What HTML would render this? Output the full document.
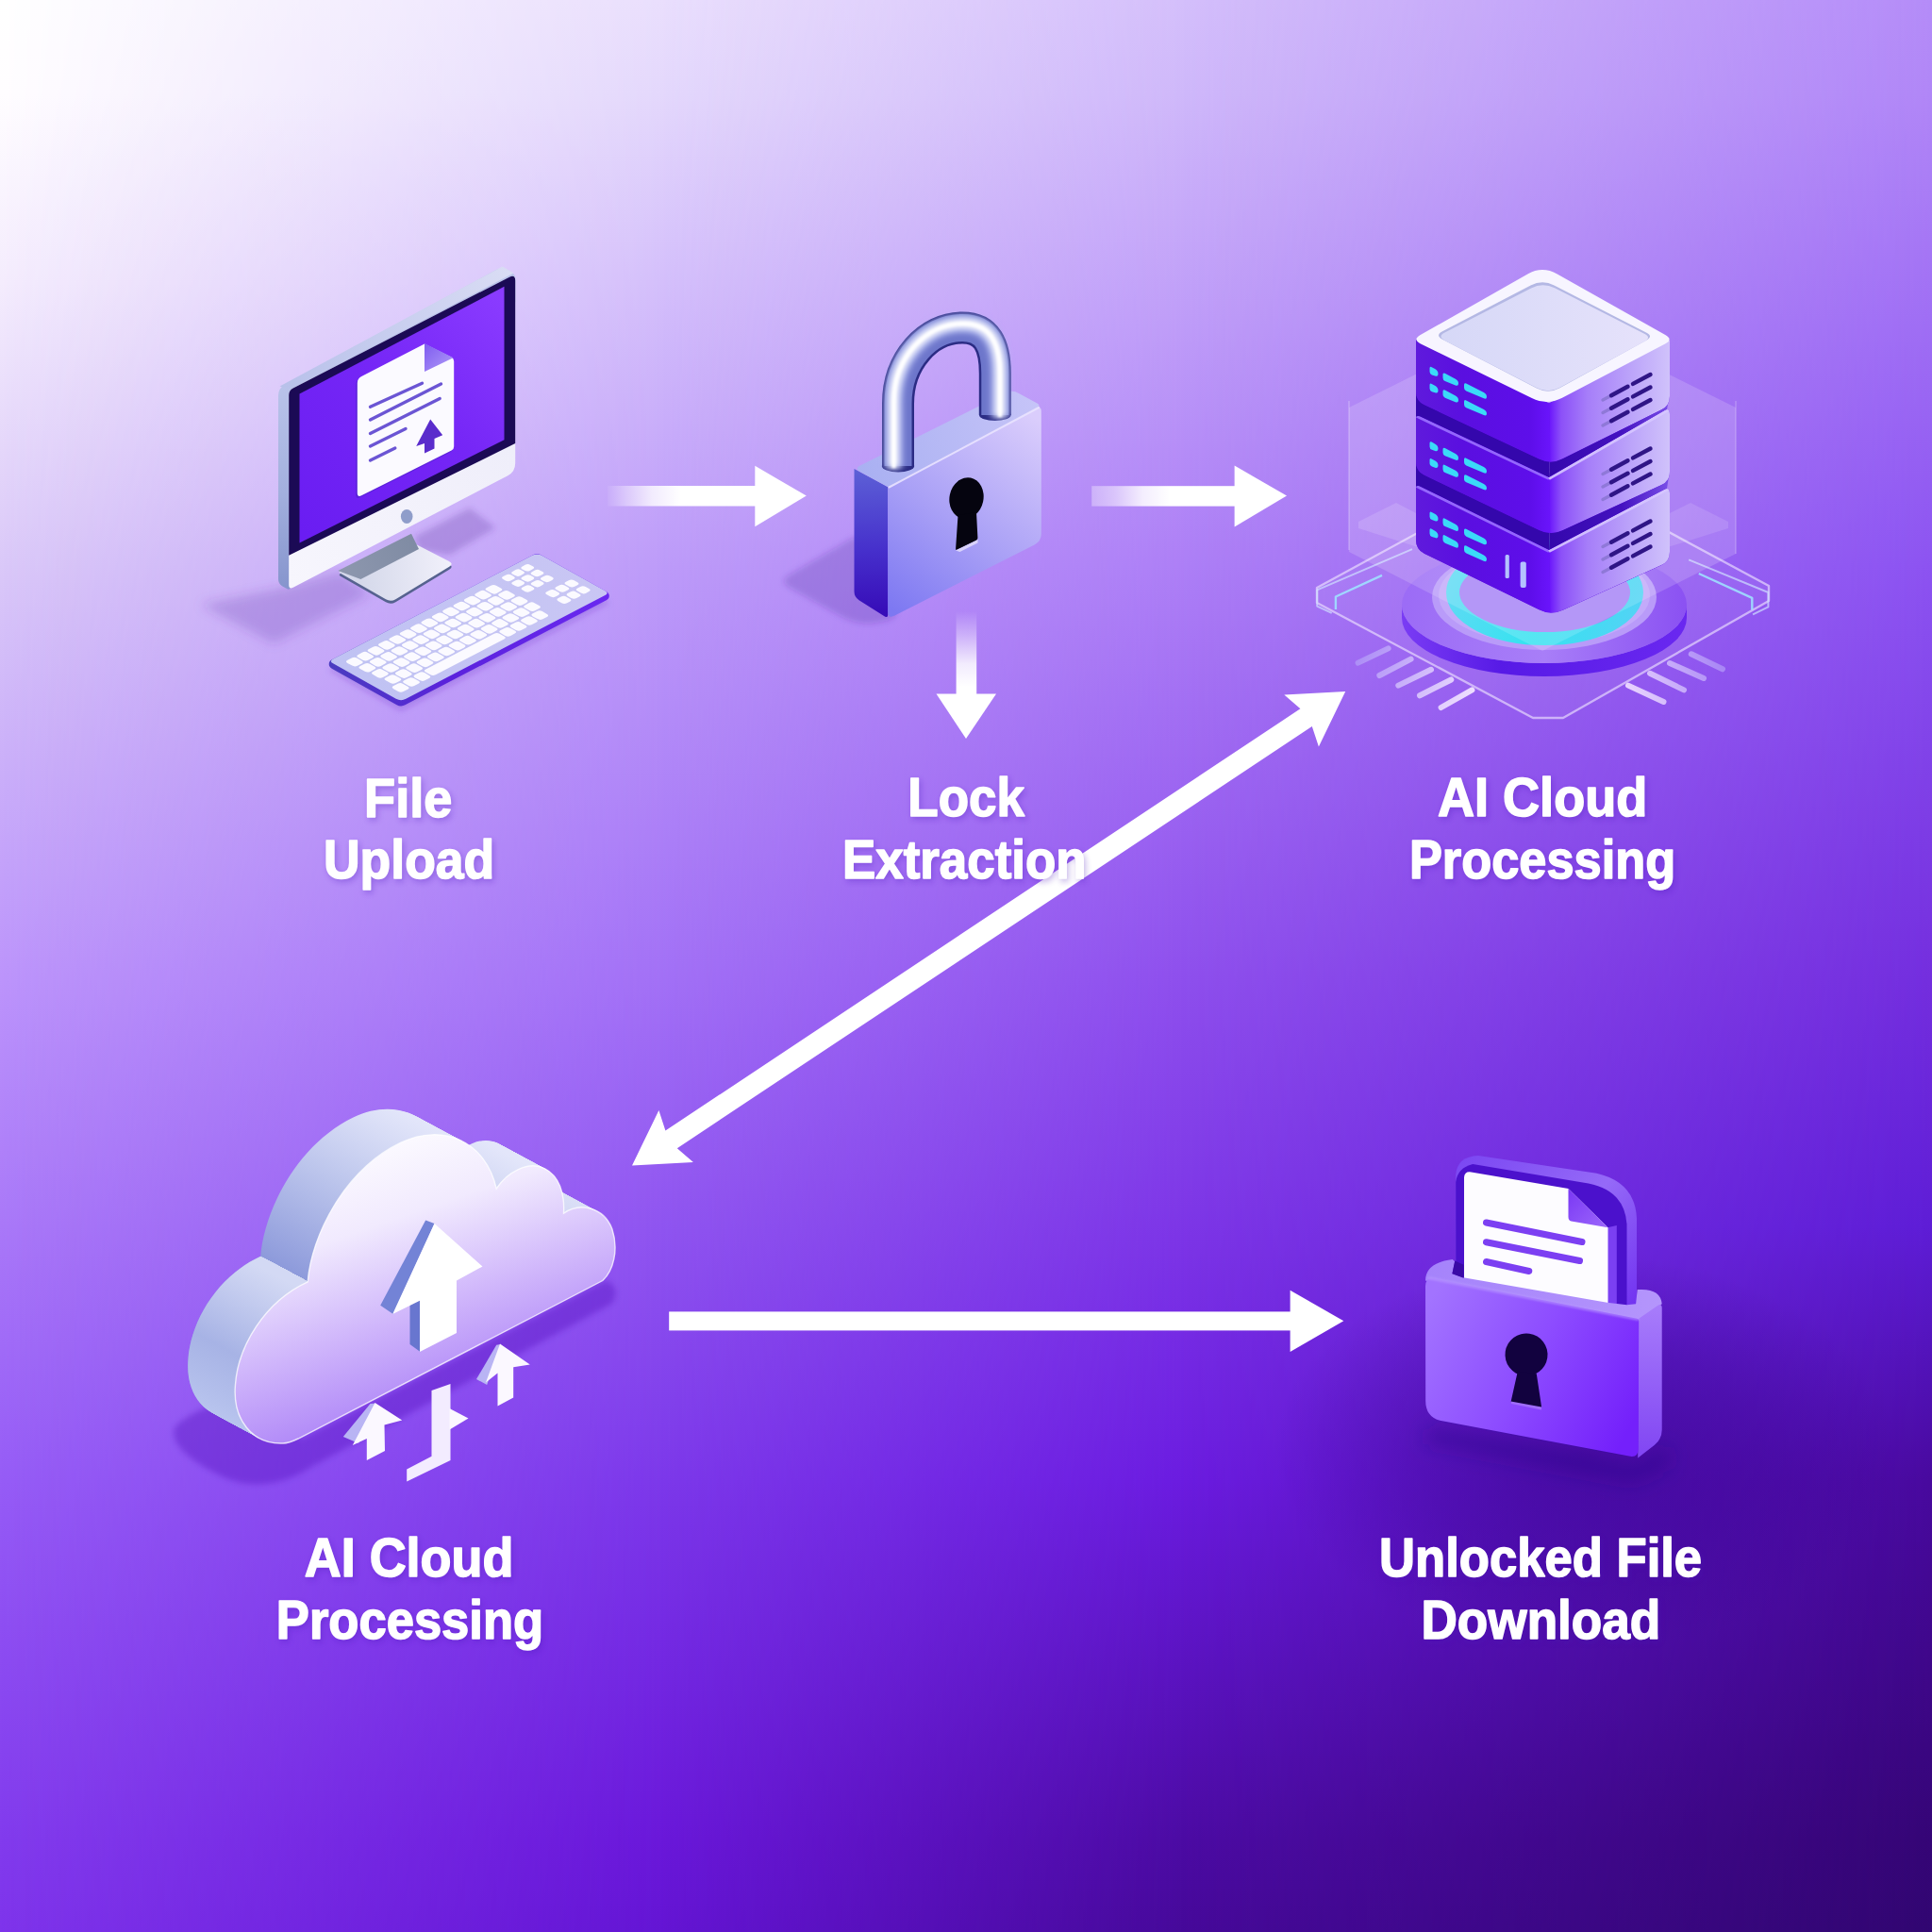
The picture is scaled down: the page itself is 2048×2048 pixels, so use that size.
<!DOCTYPE html>
<html lang="en"><head><meta charset="utf-8"><title>File unlock flow</title>
<style>
html,body{margin:0;padding:0;background:#7a33e6;}
svg{display:block}
text{font-family:"Liberation Sans",sans-serif;font-weight:700;fill:#fff}
</style></head><body>
<svg xmlns="http://www.w3.org/2000/svg" width="2048" height="2048" viewBox="0 0 2048 2048">
<defs><linearGradient id="bgc0" gradientUnits="userSpaceOnUse" x1="0" y1="0" x2="0" y2="2048"><stop offset="0.0000" stop-color="#ffffff"/><stop offset="0.0488" stop-color="#fffdff"/><stop offset="0.1465" stop-color="#f4ecfd"/><stop offset="0.2930" stop-color="#dac8f8"/><stop offset="0.4004" stop-color="#caaef9"/><stop offset="0.5078" stop-color="#bc94fb"/><stop offset="0.6348" stop-color="#a978f8"/><stop offset="0.7666" stop-color="#965cf6"/><stop offset="0.8594" stop-color="#8c4bf1"/><stop offset="0.9521" stop-color="#823bed"/><stop offset="1.0000" stop-color="#7e34eb"/></linearGradient>
<linearGradient id="bgc1" gradientUnits="userSpaceOnUse" x1="0" y1="0" x2="0" y2="2048"><stop offset="0.0000" stop-color="#eadffd"/><stop offset="0.0488" stop-color="#e4d8fc"/><stop offset="0.1465" stop-color="#d4bffb"/><stop offset="0.2930" stop-color="#bd9bf9"/><stop offset="0.5078" stop-color="#a270f6"/><stop offset="0.7666" stop-color="#7c38ea"/><stop offset="0.9521" stop-color="#6a18da"/><stop offset="1.0000" stop-color="#6415d4"/></linearGradient>
<linearGradient id="bgr1" gradientUnits="userSpaceOnUse" x1="0" y1="0" x2="700" y2="0"><stop offset="0" stop-color="#fff" stop-opacity="0"/><stop offset="1" stop-color="#fff" stop-opacity="1"/></linearGradient>
<mask id="bgm1" maskUnits="userSpaceOnUse" x="0" y="0" width="2048" height="2048"><rect width="2048" height="2048" fill="url(#bgr1)"/></mask>
<linearGradient id="bgc2" gradientUnits="userSpaceOnUse" x1="0" y1="0" x2="0" y2="2048"><stop offset="0.0000" stop-color="#d4bffb"/><stop offset="0.0488" stop-color="#cfb8fa"/><stop offset="0.2930" stop-color="#ad7ff6"/><stop offset="0.5078" stop-color="#8e4fed"/><stop offset="0.7666" stop-color="#6b1ce0"/><stop offset="0.9521" stop-color="#4c0ba4"/><stop offset="1.0000" stop-color="#46099a"/></linearGradient>
<linearGradient id="bgr2" gradientUnits="userSpaceOnUse" x1="700" y1="0" x2="1250" y2="0"><stop offset="0" stop-color="#fff" stop-opacity="0"/><stop offset="1" stop-color="#fff" stop-opacity="1"/></linearGradient>
<mask id="bgm2" maskUnits="userSpaceOnUse" x="0" y="0" width="2048" height="2048"><rect width="2048" height="2048" fill="url(#bgr2)"/></mask>
<linearGradient id="bgc3" gradientUnits="userSpaceOnUse" x1="0" y1="0" x2="0" y2="2048"><stop offset="0.0000" stop-color="#b48cf8"/><stop offset="0.0488" stop-color="#b086f7"/><stop offset="0.2930" stop-color="#8c53f1"/><stop offset="0.5078" stop-color="#732ede"/><stop offset="0.6348" stop-color="#5e1dd6"/><stop offset="0.7666" stop-color="#48099e"/><stop offset="0.9521" stop-color="#350576"/><stop offset="1.0000" stop-color="#310671"/></linearGradient>
<linearGradient id="bgr3" gradientUnits="userSpaceOnUse" x1="1250" y1="0" x2="2048" y2="0"><stop offset="0" stop-color="#fff" stop-opacity="0"/><stop offset="1" stop-color="#fff" stop-opacity="1"/></linearGradient>
<mask id="bgm3" maskUnits="userSpaceOnUse" x="0" y="0" width="2048" height="2048"><rect width="2048" height="2048" fill="url(#bgr3)"/></mask>

<filter id="blur3" x="-20%" y="-20%" width="140%" height="140%"><feGaussianBlur stdDeviation="3"/></filter>
<filter id="blur6" x="-20%" y="-20%" width="140%" height="140%"><feGaussianBlur stdDeviation="6"/></filter>
<filter id="blur10" x="-30%" y="-30%" width="160%" height="160%"><feGaussianBlur stdDeviation="10"/></filter>
<filter id="blur1" x="-20%" y="-20%" width="140%" height="140%"><feGaussianBlur stdDeviation="1"/></filter>
<linearGradient id="mside" gradientUnits="userSpaceOnUse" x1="295" y1="410" x2="306" y2="630">
  <stop offset="0" stop-color="#b9c3ea"/><stop offset="0.5" stop-color="#a3b0de"/><stop offset="1" stop-color="#8493cc"/>
</linearGradient>
<linearGradient id="mtop" gradientUnits="userSpaceOnUse" x1="300" y1="410" x2="540" y2="290">
  <stop offset="0" stop-color="#b8c1ea"/><stop offset="1" stop-color="#d9dcf4"/>
</linearGradient>
<linearGradient id="mscreen" gradientUnits="userSpaceOnUse" x1="317" y1="560" x2="535" y2="320">
  <stop offset="0" stop-color="#6a1df2"/><stop offset="0.55" stop-color="#7526f6"/><stop offset="1" stop-color="#8a3bff"/>
</linearGradient>
<linearGradient id="mchin" gradientUnits="userSpaceOnUse" x1="306" y1="620" x2="546" y2="480">
  <stop offset="0" stop-color="#f7f6fd"/><stop offset="1" stop-color="#efeefa"/>
</linearGradient>
<linearGradient id="mneck" gradientUnits="userSpaceOnUse" x1="360" y1="605" x2="443" y2="575">
  <stop offset="0" stop-color="#8d97ae"/><stop offset="1" stop-color="#7f8ba3"/>
</linearGradient>
<linearGradient id="mbase" gradientUnits="userSpaceOnUse" x1="380" y1="610" x2="480" y2="600">
  <stop offset="0" stop-color="#d4d8ea"/><stop offset="1" stop-color="#f2f1fb"/>
</linearGradient>
<linearGradient id="kbtop" gradientUnits="userSpaceOnUse" x1="350" y1="700" x2="640" y2="620">
  <stop offset="0" stop-color="#bfc2f3"/><stop offset="1" stop-color="#c9c6f4"/>
</linearGradient>
<linearGradient id="kbside" gradientUnits="userSpaceOnUse" x1="350" y1="700" x2="640" y2="640">
  <stop offset="0" stop-color="#4a3cc0"/><stop offset="0.4" stop-color="#5a22dc"/><stop offset="1" stop-color="#6a28f0"/>
</linearGradient>
<linearGradient id="fold1" gradientUnits="userSpaceOnUse" x1="450" y1="365" x2="480" y2="395">
  <stop offset="0" stop-color="#7f5cf0"/><stop offset="1" stop-color="#b19cf8"/>
</linearGradient>


<linearGradient id="lkfront" gradientUnits="userSpaceOnUse" x1="950" y1="650" x2="1100" y2="445">
  <stop offset="0" stop-color="#7d78f2"/><stop offset="0.45" stop-color="#a9a0f6"/><stop offset="1" stop-color="#dacdfc"/>
</linearGradient>
<linearGradient id="lkleft" gradientUnits="userSpaceOnUse" x1="920" y1="500" x2="925" y2="650">
  <stop offset="0" stop-color="#5c5fd6"/><stop offset="0.55" stop-color="#4630cc"/><stop offset="1" stop-color="#370cb8"/>
</linearGradient>
<linearGradient id="lktop" gradientUnits="userSpaceOnUse" x1="910" y1="500" x2="1100" y2="425">
  <stop offset="0" stop-color="#a9b0f2"/><stop offset="1" stop-color="#c6c4f8"/>
</linearGradient>
<linearGradient id="shk" gradientUnits="userSpaceOnUse" x1="935" y1="0" x2="1072" y2="0">
  <stop offset="0" stop-color="#3f409c"/><stop offset="0.5" stop-color="#5d62bd"/><stop offset="1" stop-color="#4a4cab"/>
</linearGradient>


<linearGradient id="svL" x1="0" y1="0" x2="1" y2="0">
  <stop offset="0" stop-color="#5f1adc"/><stop offset="0.35" stop-color="#5a0fe0"/><stop offset="0.85" stop-color="#5e0eea"/><stop offset="1" stop-color="#6a14fc"/>
</linearGradient>
<linearGradient id="svR" x1="0" y1="0" x2="1" y2="0">
  <stop offset="0" stop-color="#6a14fc"/><stop offset="0.1" stop-color="#8c50f8"/><stop offset="0.32" stop-color="#a67ef9"/><stop offset="0.7" stop-color="#bda6fa"/><stop offset="1" stop-color="#d0c2fb"/>
</linearGradient>
<linearGradient id="svTopIn" gradientUnits="userSpaceOnUse" x1="1530" y1="360" x2="1750" y2="350">
  <stop offset="0" stop-color="#d6d8f7"/><stop offset="1" stop-color="#e6e2fb"/>
</linearGradient>
<linearGradient id="discTop" gradientUnits="userSpaceOnUse" x1="1490" y1="640" x2="1790" y2="660">
  <stop offset="0" stop-color="#9c6cf6"/><stop offset="0.5" stop-color="#a87ef8"/><stop offset="1" stop-color="#8a50f2"/>
</linearGradient>
<linearGradient id="discSide" gradientUnits="userSpaceOnUse" x1="1486" y1="0" x2="1788" y2="0">
  <stop offset="0" stop-color="#7a3cf4"/><stop offset="0.35" stop-color="#571ae6"/><stop offset="1" stop-color="#6a28f0"/>
</linearGradient>
<linearGradient id="ring" gradientUnits="userSpaceOnUse" x1="1535" y1="600" x2="1740" y2="690">
  <stop offset="0" stop-color="#63d9f4"/><stop offset="0.5" stop-color="#35e3f0"/><stop offset="1" stop-color="#58d0f6"/>
</linearGradient>
<linearGradient id="tickL" gradientUnits="userSpaceOnUse" x1="1440" y1="690" x2="1560" y2="750">
  <stop offset="0" stop-color="#ab8cf6"/><stop offset="1" stop-color="#f1e2ff"/>
</linearGradient>
<linearGradient id="tickR" gradientUnits="userSpaceOnUse" x1="1826" y1="695" x2="1726" y2="745">
  <stop offset="0" stop-color="#a582f5"/><stop offset="1" stop-color="#ecd8ff"/>
</linearGradient>


<linearGradient id="gapR" gradientUnits="userSpaceOnUse" x1="1642" y1="0" x2="1770" y2="0">
  <stop offset="0" stop-color="#3407ac"/><stop offset="0.6" stop-color="#4412c0"/><stop offset="1" stop-color="#7a50e8"/>
</linearGradient>


<linearGradient id="clFront" gradientUnits="userSpaceOnUse" x1="365" y1="1215" x2="470" y2="1520">
  <stop offset="0" stop-color="#fdfcff"/><stop offset="0.28" stop-color="#f1eafe"/>
  <stop offset="0.6" stop-color="#cfb5fb"/><stop offset="1" stop-color="#a375f6"/>
</linearGradient>
<linearGradient id="clSideA" gradientUnits="userSpaceOnUse" x1="400" y1="1175" x2="330" y2="1360">
  <stop offset="0" stop-color="#e3e6fa"/><stop offset="0.45" stop-color="#bcc5ec"/><stop offset="1" stop-color="#8d9adb"/>
</linearGradient>
<linearGradient id="clSideB" gradientUnits="userSpaceOnUse" x1="270" y1="1350" x2="215" y2="1520">
  <stop offset="0" stop-color="#d3d9f4"/><stop offset="0.5" stop-color="#a7b3e5"/><stop offset="1" stop-color="#bcc8f0"/>
</linearGradient>

<path id="clp" d="M 300.0,1530.0 C 267.5,1531.2 246.2,1505.0 249.5,1467.5 C 252.5,1427.5 280.0,1380.0 326.2,1358.8 C 330.0,1310.0 365.0,1240.0 425.0,1211.2 C 470.0,1190.0 515.0,1210.0 526.2,1260.0 C 537.5,1242.5 560.0,1230.0 577.5,1238.8 C 592.5,1246.2 598.8,1265.0 597.5,1286.2 C 615.0,1273.8 640.0,1280.0 648.8,1302.5 C 656.2,1325.0 650.0,1347.5 638.8,1357.5 L 316.2,1525.0 C 310.0,1528.0 305.0,1530.0 300.0,1530.0 Z"/>
<clipPath id="clLeft"><polygon points="332.5,1362.0 276.2,1331.8 155.0,1331.8 155.0,1600.0 332.5,1600.0"/></clipPath>

<linearGradient id="ulFront" gradientUnits="userSpaceOnUse" x1="1515" y1="1380" x2="1735" y2="1500">
  <stop offset="0" stop-color="#a273ff"/><stop offset="0.5" stop-color="#8d4cff"/><stop offset="1" stop-color="#7420fb"/>
</linearGradient>
<linearGradient id="ulSide" gradientUnits="userSpaceOnUse" x1="1748" y1="1385" x2="1748" y2="1540">
  <stop offset="0" stop-color="#a77cfb"/><stop offset="1" stop-color="#8247f3"/>
</linearGradient>
<linearGradient id="ulTop" gradientUnits="userSpaceOnUse" x1="1515" y1="1340" x2="1760" y2="1385">
  <stop offset="0" stop-color="#a583fb"/><stop offset="1" stop-color="#b495fc"/>
</linearGradient>
<linearGradient id="ulBackO" gradientUnits="userSpaceOnUse" x1="1545" y1="1225" x2="1735" y2="1390">
  <stop offset="0" stop-color="#7a46f2"/><stop offset="0.55" stop-color="#956af8"/><stop offset="1" stop-color="#7030f0"/>
</linearGradient>
<linearGradient id="ulFold" gradientUnits="userSpaceOnUse" x1="1662" y1="1262" x2="1700" y2="1300">
  <stop offset="0" stop-color="#7a38f4"/><stop offset="1" stop-color="#9a64fb"/>
</linearGradient>
<radialGradient id="ulGlow" cx="0.5" cy="0.5" r="0.5">
  <stop offset="0" stop-color="#36048c" stop-opacity="0.55"/><stop offset="0.55" stop-color="#36048c" stop-opacity="0.3"/><stop offset="1" stop-color="#36048c" stop-opacity="0"/>
</radialGradient>


<linearGradient id="fa1" gradientUnits="userSpaceOnUse" x1="644" y1="0" x2="722" y2="0">
  <stop offset="0" stop-color="#fff" stop-opacity="0.05"/><stop offset="0.25" stop-color="#fff" stop-opacity="0.38"/>
  <stop offset="0.6" stop-color="#fff" stop-opacity="0.78"/><stop offset="1" stop-color="#fff" stop-opacity="1"/>
</linearGradient>
<linearGradient id="fa2" gradientUnits="userSpaceOnUse" x1="1157" y1="0" x2="1240" y2="0">
  <stop offset="0" stop-color="#fff" stop-opacity="0.32"/><stop offset="0.3" stop-color="#fff" stop-opacity="0.5"/>
  <stop offset="0.65" stop-color="#fff" stop-opacity="0.85"/><stop offset="1" stop-color="#fff" stop-opacity="1"/>
</linearGradient>
<linearGradient id="fa3" gradientUnits="userSpaceOnUse" x1="0" y1="648" x2="0" y2="728">
  <stop offset="0" stop-color="#fff" stop-opacity="0.0"/><stop offset="0.3" stop-color="#fff" stop-opacity="0.35"/>
  <stop offset="0.7" stop-color="#fff" stop-opacity="0.85"/><stop offset="1" stop-color="#fff" stop-opacity="1"/>
</linearGradient>
</defs>
<rect width="2048" height="2048" fill="url(#bgc0)"/>
<rect width="2048" height="2048" fill="url(#bgc1)" mask="url(#bgm1)"/>
<rect width="2048" height="2048" fill="url(#bgc2)" mask="url(#bgm2)"/>
<rect width="2048" height="2048" fill="url(#bgc3)" mask="url(#bgm3)"/>
<g filter="url(#blur3)">
<polygon points="439.1,568.9 498.1,538.6 525.2,559.6 476.3,588.3 444.5,582.9" fill="rgba(92,52,160,0.26)" />
</g>
<g filter="url(#blur6)">
<polygon points="213.0,641.0 305.0,622.0 362.0,606.0 392.0,630.0 290.0,682.0" fill="rgba(92,52,170,0.24)" />
</g>
<path d="M360.9,610.7 Q358.3,609.2 361.0,607.9 L429.8,574.2 L476.0,597.9 Q481.3,600.6 476.2,603.8 L419.4,638.2 Q414.2,641.3 409.0,638.3 Z" fill="#56628f"/>
<path d="M360.9,607.7 Q358.3,606.2 361.0,604.9 L429.8,571.2 L476.0,594.9 Q481.3,597.6 476.2,600.8 L419.4,635.2 Q414.2,638.3 409.0,635.3 Z" fill="url(#mbase)"/>
<polygon points="358.3,605.1 436.0,565.8 444.0,582.1 382.4,614.1" fill="url(#mneck)" />
<path d="M295.0,419.5 Q295.0,411.5 302.0,407.7 L525.5,286.3 Q532.5,282.5 539.3,286.7 L542.2,288.4 Q546.5,291.0 546.5,296.0 L546.5,320.0 L307.5,623.7 Q306.2,625.2 304.5,624.3 L299.4,621.4 Q295.0,619.0 295.0,614.0 Z" fill="url(#mside)"/>
<polygon points="296.5,409.5 532.5,282.5 544.5,289.5 307.5,412.5" fill="url(#mtop)" />
<path d="M306.2,418.8 Q306.2,413.8 310.7,411.5 L540.0,293.7 Q546.2,290.5 546.2,297.5 L546.2,491.0 Q546.2,500.0 538.3,504.2 L310.7,622.7 Q306.2,625.0 306.2,620.0 Z" fill="url(#mchin)"/>
<path d="M306.2,418.8 Q306.2,413.8 310.7,411.5 L540.0,293.7 Q546.2,290.5 546.2,297.5 L546.2,470.0 L306.2,588.8 Z" fill="#1b0a55"/>
<polygon points="317.5,417.5 534.5,303.8 534.5,466.2 317.5,575.5" fill="url(#mscreen)" />
<ellipse cx="431.2" cy="547.5" rx="6.3" ry="7.4" fill="#8f9dca"/>
<path d="M377.2,408.2 Q377.2,403.2 381.7,401.0 L448.5,366.5 L477.1,380.7 Q479.8,382.0 479.8,385.0 L479.8,475.2 Q479.8,478.2 477.1,479.6 L381.7,527.3 Q377.2,529.5 377.2,524.5 Z" fill="#4a22c4" opacity="0.55"/>
<path d="M378.8,406.2 Q378.8,401.2 383.2,399.0 L450.0,364.5 L478.6,378.7 Q481.2,380.0 481.2,383.0 L481.2,473.2 Q481.2,476.2 478.6,477.6 L383.2,525.3 Q378.8,527.5 378.8,522.5 Z" fill="#fbfaff"/>
<polygon points="450.0,364.0 480.5,379.2 450.0,394.0" fill="url(#fold1)" />
<line x1="392.5" y1="431.2" x2="447.5" y2="406.2" stroke="#6b55d4" stroke-width="3.4" stroke-linecap="round"/>
<line x1="392.5" y1="445.0" x2="467.5" y2="407.0" stroke="#6b55d4" stroke-width="3.4" stroke-linecap="round"/>
<line x1="392.5" y1="459.5" x2="466.2" y2="422.5" stroke="#6b55d4" stroke-width="3.4" stroke-linecap="round"/>
<line x1="392.5" y1="473.0" x2="430.0" y2="454.5" stroke="#6b55d4" stroke-width="3.4" stroke-linecap="round"/>
<line x1="392.5" y1="488.0" x2="418.8" y2="475.0" stroke="#6b55d4" stroke-width="3.4" stroke-linecap="round"/>
<polygon points="456.2,444.5 469.2,461.2 460.5,465.0 460.5,475.5 450.0,480.5 450.0,470.0 441.2,473.0" fill="#5a2ccc" />
<g filter="url(#blur3)">
<polygon points="348.7,709.9 569.5,595.0 645.8,638.7 425.0,753.6" fill="rgba(90,40,190,0.25)" />
</g>
<path d="M352.2,699.1 Q348.7,700.9 348.7,703.9 L348.7,703.9 Q348.7,706.9 352.2,708.9 L420.6,747.2 Q425.0,749.6 429.4,747.3 L642.3,636.5 Q645.8,634.7 645.8,631.7 L645.8,631.7 Q645.8,628.7 642.3,626.7 L573.0,588.0 Q569.5,586.0 566.0,587.8 Z" fill="url(#kbside)"/>
<path d="M353.1,703.3 Q348.7,700.9 353.1,698.6 L564.2,588.8 Q569.5,586.0 574.7,588.9 L641.4,626.3 Q645.8,628.7 641.4,631.0 L430.3,740.8 Q425.0,743.6 419.8,740.7 Z" fill="url(#kbtop)"/>
<path d="M368.3,702.9 Q365.5,701.3 368.4,699.8 L372.8,697.5 Q375.6,696.0 378.4,697.6 L383.4,700.4 Q386.2,701.9 383.3,703.4 L378.9,705.7 Q376.0,707.2 373.3,705.6 Z" fill="#fbfaff"/>
<path d="M379.7,697.0 Q376.9,695.4 379.7,693.9 L384.2,691.6 Q387.0,690.1 389.8,691.7 L394.7,694.5 Q397.5,696.0 394.7,697.5 L390.2,699.8 Q387.4,701.3 384.6,699.7 Z" fill="#fbfaff"/>
<path d="M391.0,691.0 Q388.2,689.5 391.1,688.0 L395.5,685.7 Q398.3,684.2 401.1,685.8 L406.1,688.5 Q408.9,690.1 406.0,691.6 L401.6,693.9 Q398.8,695.4 396.0,693.8 Z" fill="#fbfaff"/>
<path d="M402.4,685.1 Q399.6,683.6 402.4,682.1 L406.9,679.8 Q409.7,678.3 412.5,679.9 L417.4,682.6 Q420.2,684.2 417.4,685.7 L412.9,688.0 Q410.1,689.5 407.3,687.9 Z" fill="#fbfaff"/>
<path d="M413.7,679.2 Q410.9,677.7 413.8,676.2 L418.2,673.9 Q421.1,672.4 423.8,674.0 L428.8,676.7 Q431.6,678.3 428.7,679.8 L424.3,682.1 Q421.5,683.6 418.7,682.0 Z" fill="#fbfaff"/>
<path d="M425.1,673.3 Q422.3,671.8 425.1,670.3 L429.6,668.0 Q432.4,666.5 435.2,668.0 L440.1,670.8 Q442.9,672.4 440.1,673.9 L435.7,676.2 Q432.8,677.6 430.0,676.1 Z" fill="#fbfaff"/>
<path d="M436.4,667.4 Q433.6,665.8 436.5,664.4 L440.9,662.1 Q443.8,660.6 446.6,662.1 L451.5,664.9 Q454.3,666.5 451.5,667.9 L447.0,670.3 Q444.2,671.7 441.4,670.2 Z" fill="#fbfaff"/>
<path d="M447.8,661.5 Q445.0,659.9 447.8,658.5 L452.3,656.1 Q455.1,654.7 457.9,656.2 L462.9,659.0 Q465.7,660.6 462.8,662.0 L458.4,664.3 Q455.5,665.8 452.7,664.3 Z" fill="#fbfaff"/>
<path d="M459.2,655.6 Q456.4,654.0 459.2,652.5 L463.6,650.2 Q466.5,648.8 469.3,650.3 L474.2,653.1 Q477.0,654.7 474.2,656.1 L469.7,658.4 Q466.9,659.9 464.1,658.4 Z" fill="#fbfaff"/>
<path d="M470.5,649.7 Q467.7,648.1 470.6,646.6 L475.0,644.3 Q477.8,642.8 480.6,644.4 L485.6,647.2 Q488.4,648.7 485.5,650.2 L481.1,652.5 Q478.2,654.0 475.5,652.4 Z" fill="#fbfaff"/>
<path d="M481.9,643.8 Q479.1,642.2 481.9,640.7 L486.4,638.4 Q489.2,636.9 492.0,638.5 L496.9,641.3 Q499.7,642.8 496.9,644.3 L492.4,646.6 Q489.6,648.1 486.8,646.5 Z" fill="#fbfaff"/>
<path d="M493.2,637.9 Q490.4,636.3 493.3,634.8 L497.7,632.5 Q500.5,631.0 503.3,632.6 L508.3,635.4 Q511.1,636.9 508.2,638.4 L503.8,640.7 Q501.0,642.2 498.2,640.6 Z" fill="#fbfaff"/>
<path d="M504.6,631.9 Q501.8,630.4 504.6,628.9 L509.1,626.6 Q511.9,625.1 514.7,626.7 L519.6,629.5 Q522.4,631.0 519.6,632.5 L515.1,634.8 Q512.3,636.3 509.5,634.7 Z" fill="#fbfaff"/>
<path d="M515.9,626.0 Q513.1,624.5 516.0,623.0 L520.4,620.7 Q523.3,619.2 526.0,620.8 L531.0,623.5 Q533.8,625.1 530.9,626.6 L526.5,628.9 Q523.7,630.4 520.9,628.8 Z" fill="#fbfaff"/>
<path d="M381.8,709.0 Q379.0,707.4 381.9,706.0 L386.3,703.7 Q389.2,702.2 392.0,703.7 L396.9,706.5 Q399.7,708.1 396.9,709.5 L392.4,711.9 Q389.6,713.3 386.8,711.8 Z" fill="#fbfaff"/>
<path d="M393.2,703.1 Q390.4,701.5 393.2,700.1 L397.7,697.7 Q400.5,696.3 403.3,697.8 L408.3,700.6 Q411.1,702.2 408.2,703.6 L403.8,705.9 Q400.9,707.4 398.1,705.9 Z" fill="#fbfaff"/>
<path d="M404.6,697.2 Q401.8,695.6 404.6,694.1 L409.0,691.8 Q411.9,690.4 414.7,691.9 L419.6,694.7 Q422.4,696.2 419.6,697.7 L415.1,700.0 Q412.3,701.5 409.5,700.0 Z" fill="#fbfaff"/>
<path d="M415.9,691.3 Q413.1,689.7 416.0,688.2 L420.4,685.9 Q423.2,684.4 426.0,686.0 L431.0,688.8 Q433.8,690.3 430.9,691.8 L426.5,694.1 Q423.6,695.6 420.9,694.0 Z" fill="#fbfaff"/>
<path d="M427.3,685.4 Q424.5,683.8 427.3,682.3 L431.8,680.0 Q434.6,678.5 437.4,680.1 L442.3,682.9 Q445.1,684.4 442.3,685.9 L437.8,688.2 Q435.0,689.7 432.2,688.1 Z" fill="#fbfaff"/>
<path d="M438.6,679.5 Q435.8,677.9 438.7,676.4 L443.1,674.1 Q445.9,672.6 448.7,674.2 L453.7,677.0 Q456.5,678.5 453.6,680.0 L449.2,682.3 Q446.4,683.8 443.6,682.2 Z" fill="#fbfaff"/>
<path d="M450.0,673.5 Q447.2,672.0 450.0,670.5 L454.5,668.2 Q457.3,666.7 460.1,668.3 L465.0,671.0 Q467.8,672.6 465.0,674.1 L460.5,676.4 Q457.7,677.9 454.9,676.3 Z" fill="#fbfaff"/>
<path d="M461.3,667.6 Q458.5,666.1 461.4,664.6 L465.8,662.3 Q468.7,660.8 471.4,662.4 L476.4,665.1 Q479.2,666.7 476.3,668.2 L471.9,670.5 Q469.1,672.0 466.3,670.4 Z" fill="#fbfaff"/>
<path d="M472.7,661.7 Q469.9,660.2 472.7,658.7 L477.2,656.4 Q480.0,654.9 482.8,656.5 L487.7,659.2 Q490.5,660.8 487.7,662.3 L483.3,664.6 Q480.4,666.1 477.6,664.5 Z" fill="#fbfaff"/>
<path d="M484.0,655.8 Q481.2,654.3 484.1,652.8 L488.5,650.5 Q491.4,649.0 494.2,650.6 L499.1,653.3 Q501.9,654.9 499.1,656.4 L494.6,658.7 Q491.8,660.1 489.0,658.6 Z" fill="#fbfaff"/>
<path d="M495.4,649.9 Q492.6,648.3 495.4,646.9 L499.9,644.6 Q502.7,643.1 505.5,644.6 L510.5,647.4 Q513.3,649.0 510.4,650.5 L506.0,652.8 Q503.1,654.2 500.3,652.7 Z" fill="#fbfaff"/>
<path d="M506.8,644.0 Q504.0,642.4 506.8,641.0 L511.2,638.6 Q514.1,637.2 516.9,638.7 L521.8,641.5 Q524.6,643.1 521.8,644.5 L517.3,646.9 Q514.5,648.3 511.7,646.8 Z" fill="#fbfaff"/>
<path d="M518.1,638.1 Q515.3,636.5 518.2,635.1 L522.6,632.7 Q525.4,631.3 528.2,632.8 L533.2,635.6 Q536.0,637.2 533.1,638.6 L528.7,640.9 Q525.8,642.4 523.1,640.9 Z" fill="#fbfaff"/>
<path d="M529.5,632.2 Q526.7,630.6 529.5,629.1 L533.9,626.8 Q536.8,625.4 539.6,626.9 L544.5,629.7 Q547.3,631.2 544.5,632.7 L540.0,635.0 Q537.2,636.5 534.4,635.0 Z" fill="#fbfaff"/>
<path d="M395.4,715.1 Q392.6,713.6 395.4,712.1 L399.9,709.8 Q402.7,708.3 405.5,709.9 L410.4,712.6 Q413.2,714.2 410.4,715.7 L405.9,718.0 Q403.1,719.5 400.3,717.9 Z" fill="#fbfaff"/>
<path d="M406.7,709.2 Q403.9,707.7 406.8,706.2 L411.2,703.9 Q414.1,702.4 416.8,704.0 L421.8,706.7 Q424.6,708.3 421.7,709.8 L417.3,712.1 Q414.5,713.6 411.7,712.0 Z" fill="#fbfaff"/>
<path d="M418.1,703.3 Q415.3,701.8 418.1,700.3 L422.6,698.0 Q425.4,696.5 428.2,698.1 L433.1,700.8 Q435.9,702.4 433.1,703.9 L428.7,706.2 Q425.8,707.7 423.0,706.1 Z" fill="#fbfaff"/>
<path d="M429.4,697.4 Q426.6,695.9 429.5,694.4 L433.9,692.1 Q436.8,690.6 439.6,692.2 L444.5,694.9 Q447.3,696.5 444.5,698.0 L440.0,700.3 Q437.2,701.7 434.4,700.2 Z" fill="#fbfaff"/>
<path d="M440.8,691.5 Q438.0,689.9 440.8,688.5 L445.3,686.2 Q448.1,684.7 450.9,686.2 L455.9,689.0 Q458.7,690.6 455.8,692.0 L451.4,694.4 Q448.5,695.8 445.7,694.3 Z" fill="#fbfaff"/>
<path d="M452.2,685.6 Q449.4,684.0 452.2,682.6 L456.6,680.2 Q459.5,678.8 462.3,680.3 L467.2,683.1 Q470.0,684.7 467.2,686.1 L462.7,688.5 Q459.9,689.9 457.1,688.4 Z" fill="#fbfaff"/>
<path d="M463.5,679.7 Q460.7,678.1 463.6,676.6 L468.0,674.3 Q470.8,672.9 473.6,674.4 L478.6,677.2 Q481.4,678.8 478.5,680.2 L474.1,682.5 Q471.2,684.0 468.5,682.5 Z" fill="#fbfaff"/>
<path d="M474.9,673.8 Q472.1,672.2 474.9,670.7 L479.3,668.4 Q482.2,667.0 485.0,668.5 L489.9,671.3 Q492.7,672.8 489.9,674.3 L485.4,676.6 Q482.6,678.1 479.8,676.5 Z" fill="#fbfaff"/>
<path d="M486.2,667.9 Q483.4,666.3 486.3,664.8 L490.7,662.5 Q493.5,661.0 496.3,662.6 L501.3,665.4 Q504.1,666.9 501.2,668.4 L496.8,670.7 Q494.0,672.2 491.2,670.6 Z" fill="#fbfaff"/>
<path d="M497.6,662.0 Q494.8,660.4 497.6,658.9 L502.1,656.6 Q504.9,655.1 507.7,656.7 L512.6,659.5 Q515.4,661.0 512.6,662.5 L508.1,664.8 Q505.3,666.3 502.5,664.7 Z" fill="#fbfaff"/>
<path d="M508.9,656.1 Q506.1,654.5 509.0,653.0 L513.4,650.7 Q516.3,649.2 519.0,650.8 L524.0,653.6 Q526.8,655.1 523.9,656.6 L519.5,658.9 Q516.7,660.4 513.9,658.8 Z" fill="#fbfaff"/>
<path d="M520.3,650.1 Q517.5,648.6 520.3,647.1 L524.8,644.8 Q527.6,643.3 530.4,644.9 L535.3,647.6 Q538.1,649.2 535.3,650.7 L530.9,653.0 Q528.0,654.5 525.2,652.9 Z" fill="#fbfaff"/>
<path d="M531.6,644.2 Q528.8,642.7 531.7,641.2 L536.1,638.9 Q539.0,637.4 541.8,639.0 L546.7,641.7 Q549.5,643.3 546.7,644.8 L542.2,647.1 Q539.4,648.6 536.6,647.0 Z" fill="#fbfaff"/>
<path d="M543.0,638.3 Q540.2,636.8 543.0,635.3 L547.5,633.0 Q550.3,631.5 553.1,633.1 L558.1,635.8 Q560.9,637.4 558.0,638.9 L553.6,641.2 Q550.7,642.7 547.9,641.1 Z" fill="#fbfaff"/>
<path d="M408.9,721.3 Q406.1,719.7 409.0,718.2 L413.4,715.9 Q416.2,714.5 419.0,716.0 L424.0,718.8 Q426.8,720.4 423.9,721.8 L419.5,724.1 Q416.6,725.6 413.9,724.1 Z" fill="#fbfaff"/>
<path d="M420.3,715.4 Q417.5,713.8 420.3,712.3 L424.7,710.0 Q427.6,708.5 430.4,710.1 L435.3,712.9 Q438.1,714.4 435.3,715.9 L430.8,718.2 Q428.0,719.7 425.2,718.1 Z" fill="#fbfaff"/>
<path d="M431.6,709.5 Q428.8,707.9 431.7,706.4 L436.1,704.1 Q438.9,702.6 441.7,704.2 L446.7,707.0 Q449.5,708.5 446.6,710.0 L442.2,712.3 Q439.4,713.8 436.6,712.2 Z" fill="#fbfaff"/>
<path d="M443.0,703.6 Q440.2,702.0 443.0,700.5 L447.5,698.2 Q450.3,696.7 453.1,698.3 L458.0,701.1 Q460.8,702.6 458.0,704.1 L453.5,706.4 Q450.7,707.9 447.9,706.3 Z" fill="#fbfaff"/>
<path d="M454.3,697.7 Q451.5,696.1 454.4,694.6 L458.8,692.3 Q461.7,690.8 464.4,692.4 L469.4,695.2 Q472.2,696.7 469.3,698.2 L464.9,700.5 Q462.1,702.0 459.3,700.4 Z" fill="#fbfaff"/>
<path d="M465.7,691.7 Q462.9,690.2 465.7,688.7 L470.2,686.4 Q473.0,684.9 475.8,686.5 L480.7,689.2 Q483.5,690.8 480.7,692.3 L476.3,694.6 Q473.4,696.1 470.6,694.5 Z" fill="#fbfaff"/>
<path d="M477.0,685.8 Q474.2,684.3 477.1,682.8 L481.5,680.5 Q484.4,679.0 487.2,680.6 L492.1,683.3 Q494.9,684.9 492.1,686.4 L487.6,688.7 Q484.8,690.2 482.0,688.6 Z" fill="#fbfaff"/>
<path d="M488.4,679.9 Q485.6,678.4 488.4,676.9 L492.9,674.6 Q495.7,673.1 498.5,674.7 L503.5,677.4 Q506.3,679.0 503.4,680.5 L499.0,682.8 Q496.1,684.3 493.3,682.7 Z" fill="#fbfaff"/>
<path d="M499.7,674.0 Q497.0,672.5 499.8,671.0 L504.2,668.7 Q507.1,667.2 509.9,668.7 L514.8,671.5 Q517.6,673.1 514.8,674.6 L510.3,676.9 Q507.5,678.3 504.7,676.8 Z" fill="#fbfaff"/>
<path d="M511.1,668.1 Q508.3,666.5 511.2,665.1 L515.6,662.8 Q518.4,661.3 521.2,662.8 L526.2,665.6 Q529.0,667.2 526.1,668.6 L521.7,671.0 Q518.8,672.4 516.0,670.9 Z" fill="#fbfaff"/>
<path d="M522.5,662.2 Q519.7,660.6 522.5,659.2 L526.9,656.8 Q529.8,655.4 532.6,656.9 L537.5,659.7 Q540.3,661.3 537.5,662.7 L533.0,665.0 Q530.2,666.5 527.4,665.0 Z" fill="#fbfaff"/>
<path d="M533.8,656.3 Q531.0,654.7 533.9,653.2 L538.3,650.9 Q541.1,649.5 543.9,651.0 L548.9,653.8 Q551.7,655.4 548.8,656.8 L544.4,659.1 Q541.6,660.6 538.8,659.1 Z" fill="#fbfaff"/>
<path d="M545.2,650.4 Q542.4,648.8 545.2,647.3 L549.7,645.0 Q552.5,643.5 555.3,645.1 L560.2,647.9 Q563.0,649.4 560.2,650.9 L555.7,653.2 Q552.9,654.7 550.1,653.1 Z" fill="#fbfaff"/>
<path d="M556.5,644.5 Q553.7,642.9 556.6,641.4 L561.0,639.1 Q563.9,637.6 566.6,639.2 L571.6,642.0 Q574.4,643.5 571.5,645.0 L567.1,647.3 Q564.3,648.8 561.5,647.2 Z" fill="#fbfaff"/>
<path d="M417.1,730.2 Q414.3,728.6 417.2,727.1 L421.6,724.8 Q424.5,723.4 427.3,724.9 L432.2,727.7 Q435.0,729.3 432.2,730.7 L427.7,733.0 Q424.9,734.5 422.1,733.0 Z" fill="#fbfaff"/>
<path d="M428.5,724.3 Q425.7,722.7 428.5,721.2 L433.0,718.9 Q435.8,717.4 438.6,719.0 L443.6,721.8 Q446.4,723.3 443.5,724.8 L439.1,727.1 Q436.2,728.6 433.4,727.0 Z" fill="#fbfaff"/>
<path d="M439.9,718.4 Q437.1,716.8 439.9,715.3 L444.3,713.0 Q447.2,711.5 450.0,713.1 L454.9,715.9 Q457.7,717.4 454.9,718.9 L450.4,721.2 Q447.6,722.7 444.8,721.1 Z" fill="#fbfaff"/>
<path d="M451.2,712.5 Q448.4,710.9 451.3,709.4 L523.8,671.7 Q526.7,670.2 529.5,671.7 L534.4,674.5 Q537.2,676.1 534.4,677.5 L461.8,715.3 Q458.9,716.8 456.2,715.2 Z" fill="#fbfaff"/>
<path d="M530.7,671.1 Q527.9,669.5 530.7,668.1 L535.2,665.7 Q538.0,664.3 540.8,665.8 L545.8,668.6 Q548.6,670.2 545.7,671.6 L541.3,673.9 Q538.4,675.4 535.6,673.9 Z" fill="#fbfaff"/>
<path d="M542.0,665.2 Q539.3,663.6 542.1,662.1 L546.5,659.8 Q549.4,658.4 552.2,659.9 L557.1,662.7 Q559.9,664.3 557.1,665.7 L552.6,668.0 Q549.8,669.5 547.0,668.0 Z" fill="#fbfaff"/>
<path d="M553.4,659.3 Q550.6,657.7 553.5,656.2 L557.9,653.9 Q560.7,652.4 563.5,654.0 L568.5,656.8 Q571.3,658.3 568.4,659.8 L564.0,662.1 Q561.1,663.6 558.3,662.0 Z" fill="#fbfaff"/>
<path d="M564.8,653.4 Q562.0,651.8 564.8,650.3 L569.2,648.0 Q572.1,646.5 574.9,648.1 L579.8,650.9 Q582.6,652.4 579.8,653.9 L575.3,656.2 Q572.5,657.7 569.7,656.1 Z" fill="#fbfaff"/>
<path d="M533.4,614.0 Q530.6,612.4 533.4,611.0 L536.4,609.4 Q539.2,607.9 542.0,609.5 L544.5,610.9 Q547.2,612.4 544.4,613.9 L541.4,615.4 Q538.6,616.9 535.8,615.4 Z" fill="#fbfaff"/>
<path d="M543.5,608.7 Q540.7,607.1 543.6,605.7 L546.6,604.1 Q549.4,602.6 552.2,604.2 L554.6,605.6 Q557.4,607.1 554.6,608.6 L551.6,610.2 Q548.7,611.6 546.0,610.1 Z" fill="#fbfaff"/>
<path d="M553.7,603.4 Q550.9,601.9 553.7,600.4 L556.7,598.8 Q559.5,597.4 562.3,598.9 L564.8,600.3 Q567.6,601.8 564.7,603.3 L561.7,604.9 Q558.9,606.3 556.1,604.8 Z" fill="#fbfaff"/>
<path d="M543.7,619.8 Q540.9,618.2 543.7,616.7 L546.7,615.2 Q549.5,613.7 552.3,615.3 L554.8,616.6 Q557.5,618.2 554.7,619.7 L551.7,621.2 Q548.9,622.7 546.1,621.1 Z" fill="#fbfaff"/>
<path d="M553.8,614.5 Q551.0,612.9 553.9,611.4 L556.9,609.9 Q559.7,608.4 562.5,610.0 L564.9,611.3 Q567.7,612.9 564.9,614.4 L561.9,615.9 Q559.0,617.4 556.3,615.8 Z" fill="#fbfaff"/>
<path d="M564.0,609.2 Q561.2,607.6 564.0,606.2 L567.0,604.6 Q569.8,603.1 572.6,604.7 L575.1,606.0 Q577.9,607.6 575.0,609.1 L572.0,610.6 Q569.2,612.1 566.4,610.5 Z" fill="#fbfaff"/>
<path d="M554.0,625.5 Q551.2,624.0 554.0,622.5 L557.0,620.9 Q559.8,619.5 562.6,621.0 L565.1,622.4 Q567.8,623.9 565.0,625.4 L562.0,627.0 Q559.2,628.4 556.4,626.9 Z" fill="#fbfaff"/>
<path d="M564.1,620.2 Q561.3,618.7 564.2,617.2 L567.2,615.7 Q570.0,614.2 572.8,615.7 L575.2,617.1 Q578.0,618.7 575.2,620.1 L572.2,621.7 Q569.3,623.2 566.6,621.6 Z" fill="#fbfaff"/>
<path d="M574.3,615.0 Q571.5,613.4 574.3,611.9 L577.3,610.4 Q580.1,608.9 582.9,610.5 L585.4,611.8 Q588.2,613.4 585.3,614.9 L582.3,616.4 Q579.5,617.9 576.7,616.3 Z" fill="#fbfaff"/>
<path d="M579.6,630.3 Q576.8,628.8 579.6,627.3 L582.6,625.7 Q585.5,624.3 588.2,625.8 L591.8,627.8 Q594.6,629.4 591.8,630.9 L588.8,632.4 Q586.0,633.9 583.2,632.3 Z" fill="#fbfaff"/>
<path d="M589.7,625.0 Q587.0,623.5 589.8,622.0 L592.8,620.4 Q595.6,619.0 598.4,620.5 L602.0,622.5 Q604.8,624.1 601.9,625.6 L598.9,627.1 Q596.1,628.6 593.3,627.0 Z" fill="#fbfaff"/>
<path d="M599.9,619.8 Q597.1,618.2 599.9,616.7 L602.9,615.2 Q605.8,613.7 608.6,615.3 L612.1,617.2 Q614.9,618.8 612.1,620.3 L609.1,621.8 Q606.3,623.3 603.5,621.8 Z" fill="#fbfaff"/>
<path d="M591.8,637.2 Q589.0,635.6 591.8,634.1 L594.8,632.6 Q597.7,631.1 600.5,632.7 L604.0,634.7 Q606.8,636.2 604.0,637.7 L601.0,639.2 Q598.2,640.7 595.4,639.2 Z" fill="#fbfaff"/>
<path d="M602.0,631.9 Q599.2,630.3 602.0,628.8 L605.0,627.3 Q607.8,625.8 610.6,627.4 L614.2,629.4 Q617.0,630.9 614.1,632.4 L611.2,634.0 Q608.3,635.4 605.5,633.9 Z" fill="#fbfaff"/>
<path d="M612.1,626.6 Q609.3,625.0 612.2,623.5 L615.1,622.0 Q618.0,620.5 620.8,622.1 L624.3,624.1 Q627.1,625.6 624.3,627.1 L621.3,628.7 Q618.5,630.1 615.7,628.6 Z" fill="#fbfaff"/>
<g filter="url(#blur3)">
<path d="M837.2,623.1 Q825.0,616.2 837.1,609.2 L902.8,570.8 Q906.2,568.8 909.7,570.8 L950.0,595.0 L950.0,646.2 Q950.0,656.2 940.2,658.1 L930.0,660.0 Q910.0,663.8 890.8,653.0 Z" fill="rgba(70,30,150,0.22)"/>
</g>
<path d="M905.5,497.0 L941.2,516.2 L941.2,651.5 Q941.2,655.5 937.9,653.4 L910.6,636.2 Q905.5,633.0 905.5,627.0 Z" fill="url(#lkleft)"/>
<path d="M911.6,499.9 Q905.5,496.5 911.8,493.4 L1065.8,416.6 Q1073.0,413.0 1080.0,416.9 L1099.4,427.6 Q1103.8,430.0 1099.3,432.3 L942.1,515.8 Q941.2,516.2 940.4,515.8 Z" fill="url(#lktop)"/>
<path d="M941.2,519.2 Q941.2,516.2 943.9,514.8 L1098.5,432.8 Q1103.8,430.0 1103.8,436.0 L1103.8,565.8 Q1103.8,573.8 1096.6,577.4 L948.4,652.6 Q941.2,656.2 941.2,648.2 Z" fill="url(#lkfront)"/>
<line x1="942.5" y1="516.5" x2="1101.2" y2="432.0" stroke="#e9e4ff" stroke-width="2" stroke-linecap="round" opacity="0.9"/>
<ellipse cx="952" cy="494" rx="17.2" ry="6.5" fill="#2b2c84"/>
<ellipse cx="1054.8" cy="440" rx="16.8" ry="6" fill="#2b2c84"/>
<path d="M952,494 L952,428 C952,382 984,347.5 1020,347.5 C1046,347.5 1054.8,366 1054.8,396 L1054.8,440" fill="none" stroke="#2b2c84" stroke-width="34" stroke-linecap="butt"/>
<path d="M952,494 L952,428 C952,382 984,347.5 1020,347.5 C1046,347.5 1054.8,366 1054.8,396 L1054.8,440" fill="none" stroke="#6d76cb" stroke-width="29" stroke-linecap="butt"/>
<clipPath id="shkclip"><path d="M900,300 H1100 V441 Q1055,452 1020,441 V470 L975,496 Q952,506 925,496 Z"/></clipPath>
<g clip-path="url(#shkclip)">
<path d="M947.5,496 L947.5,426 C947.5,378 982,343 1021,343 C1050,343 1060,364 1060,396 L1060,442" fill="none" stroke="#a9b1ec" stroke-width="19" filter="url(#blur3)"/>
<path d="M947.5,496 L947.5,426 C947.5,378 982,343 1021,343 C1050,343 1060,364 1060,396 L1060,442" fill="none" stroke="#ffffff" stroke-width="9" filter="url(#blur3)"/>
<path d="M947.5,496 L947.5,426 C947.5,378 982,343 1021,343 C1050,343 1060,364 1060,396 L1060,442" fill="none" stroke="#ffffff" stroke-width="4" filter="url(#blur1)" opacity="0.9"/>
</g>
<g transform="rotate(12 1024.5 528)"><ellipse cx="1024.5" cy="528" rx="18" ry="22" fill="#05040f"/></g>
<path d="M1015.5,546.2 L1035.0,543.0 L1036.4,570.0 Q1036.5,572.0 1034.7,572.9 L1014.8,582.6 Q1013.0,583.5 1013.1,581.5 Z" fill="#05040f"/>
<polygon points="1036.5,572.0 1013.0,583.5 1017.5,585.0 1036.5,575.5" fill="#d9d2fb" />
<polygon points="1396.0,623.0 1622.0,500.0 1650.0,500.0 1875.0,621.0 1875.0,637.0 1657.0,761.0 1625.0,761.0 1396.0,639.0" fill="rgba(255,255,255,0.05)" stroke="rgba(240,230,255,0.62)" stroke-width="2.4" stroke-linejoin="round"/>
<polyline points="1465.0,609.8 1415.9,632.5 1415.9,646.1" fill="none" stroke="#9fe6ff" stroke-width="2.4" opacity="0.85" stroke-linejoin="round"/>
<polyline points="1497.0,582.1 1396.2,625.3 1396.2,642.6 1411.7,649.8" fill="none" stroke="#cfe0ff" stroke-width="2" opacity="0.7" stroke-linejoin="round"/>
<polyline points="1800.8,608.0 1857.3,633.8 1857.3,646.6" fill="none" stroke="#9fe6ff" stroke-width="2.4" opacity="0.85" stroke-linejoin="round"/>
<polyline points="1790.2,593.3 1874.4,628.0 1874.4,643.4 1858.1,651.4" fill="none" stroke="#cfe0ff" stroke-width="2" opacity="0.7" stroke-linejoin="round"/>
<line x1="1439.6" y1="702.6" x2="1471.6" y2="687.4" stroke="url(#tickL)" stroke-width="6" stroke-linecap="round"/>
<line x1="1462.3" y1="716.0" x2="1495.6" y2="698.6" stroke="url(#tickL)" stroke-width="6" stroke-linecap="round"/>
<line x1="1482.3" y1="726.6" x2="1517.0" y2="709.8" stroke="url(#tickL)" stroke-width="6" stroke-linecap="round"/>
<line x1="1505.0" y1="737.3" x2="1538.3" y2="720.5" stroke="url(#tickL)" stroke-width="6" stroke-linecap="round"/>
<line x1="1527.6" y1="750.0" x2="1560.4" y2="731.4" stroke="url(#tickL)" stroke-width="6" stroke-linecap="round"/>
<line x1="1792.8" y1="693.3" x2="1826.0" y2="709.3" stroke="url(#tickR)" stroke-width="6" stroke-linecap="round"/>
<line x1="1770.0" y1="703.0" x2="1806.0" y2="719.0" stroke="url(#tickR)" stroke-width="6" stroke-linecap="round"/>
<line x1="1749.0" y1="713.8" x2="1785.0" y2="731.4" stroke="url(#tickR)" stroke-width="6" stroke-linecap="round"/>
<line x1="1726.0" y1="726.6" x2="1763.5" y2="744.0" stroke="url(#tickR)" stroke-width="6" stroke-linecap="round"/>
<path d="M1486,641 A151,62 0 0 0 1788,641 L1788,655 A151,62 0 0 1 1486,655 Z" fill="url(#discSide)"/>
<ellipse cx="1637" cy="641" rx="151" ry="62" fill="url(#discTop)"/>
<ellipse cx="1637" cy="633" rx="119" ry="56" fill="#b99bf9"/>
<ellipse cx="1637" cy="631" rx="112" ry="52" fill="#c7b0fb" opacity="0.7"/>
<ellipse cx="1637.5" cy="628" rx="97.5" ry="49" fill="#a683f6" stroke="url(#ring)" stroke-width="14"/>
<polygon points="1430.0,432.0 1635.0,330.0 1840.0,432.0 1840.0,587.0 1635.0,690.0 1430.0,585.0" fill="rgba(255,255,255,0.16)" />
<polygon points="1440.0,553.0 1480.0,533.0 1503.0,545.0 1503.0,580.0 1440.0,560.0" fill="rgba(255,255,255,0.14)" />
<polygon points="1832.0,553.0 1792.0,533.0 1768.0,545.0 1768.0,580.0 1832.0,560.0" fill="rgba(255,255,255,0.12)" />
<polygon points="1501.0,487.5 1642.0,554.0 1643.0,585.0 1501.0,515.5" fill="#3407ac" />
<polygon points="1642.0,554.0 1770.0,498.0 1767.0,518.0 1643.0,585.0" fill="url(#gapR)" />
<path d="M1501.0,518.5 Q1501.0,513.5 1505.5,515.7 L1642.0,583.0 L1763.8,519.2 Q1770.0,516.0 1770.0,523.0 L1770.0,585.0 Q1770.0,595.0 1760.9,599.2 L1656.7,646.7 Q1644.0,652.5 1631.4,646.3 L1510.0,586.9 Q1501.0,582.5 1501.0,572.5 Z" fill="#5c10e2"/>
<clipPath id="uc513"><path d="M1501.0,518.5 Q1501.0,513.5 1505.5,515.7 L1642.0,583.0 L1763.8,519.2 Q1770.0,516.0 1770.0,523.0 L1770.0,585.0 Q1770.0,595.0 1760.9,599.2 L1656.7,646.7 Q1644.0,652.5 1631.4,646.3 L1510.0,586.9 Q1501.0,582.5 1501.0,572.5 Z"/></clipPath>
<g clip-path="url(#uc513)">
<polygon points="1501.0,513.5 1642.0,583.0 1644.0,652.5 1501.0,582.5 1501.0,602.5" fill="url(#svL)" />
<polygon points="1642.0,583.0 1770.0,516.0 1770.0,595.0 1644.0,652.5 1644.0,672.5" fill="url(#svR)" />
<polyline points="1499.0,514.0 1642.0,584.5" fill="none" stroke="#9a70ff" stroke-width="3" opacity="0.9"/>
<polyline points="1642.0,584.5 1772.0,516.5" fill="none" stroke="#d6c6ff" stroke-width="3" opacity="0.9"/>
</g>
<path d="M1515.5,544.1 Q1515.5,541.6 1517.7,542.9 L1521.5,545.1 Q1524.5,546.9 1524.5,550.2 L1524.5,550.2 Q1524.5,553.5 1521.2,552.3 L1517.9,551.1 Q1515.5,550.2 1515.5,547.7 Z" fill="#3bdaf8"/>
<path d="M1529.5,551.0 Q1529.5,548.5 1531.7,549.7 L1542.9,555.8 Q1546.0,557.5 1546.0,560.7 L1546.0,560.7 Q1546.0,563.9 1542.8,562.5 L1531.8,557.9 Q1529.5,556.9 1529.5,554.4 Z" fill="#3bdaf8"/>
<path d="M1552.0,562.1 Q1552.0,559.6 1554.2,560.8 L1572.9,570.6 Q1576.0,572.3 1576.0,575.3 L1576.0,575.3 Q1576.0,578.3 1572.8,576.9 L1554.3,568.7 Q1552.0,567.6 1552.0,565.1 Z" fill="#3bdaf8"/>
<path d="M1515.5,561.9 Q1515.5,559.4 1517.7,560.7 L1521.5,562.9 Q1524.5,564.7 1524.5,568.0 L1524.5,568.0 Q1524.5,571.3 1521.2,570.1 L1517.9,568.9 Q1515.5,568.0 1515.5,565.5 Z" fill="#3bdaf8"/>
<path d="M1529.5,568.8 Q1529.5,566.3 1531.7,567.5 L1542.9,573.6 Q1546.0,575.3 1546.0,578.5 L1546.0,578.5 Q1546.0,581.7 1542.8,580.3 L1531.8,575.7 Q1529.5,574.7 1529.5,572.2 Z" fill="#3bdaf8"/>
<path d="M1552.0,579.9 Q1552.0,577.4 1554.2,578.6 L1572.9,588.4 Q1576.0,590.1 1576.0,593.1 L1576.0,593.1 Q1576.0,596.1 1572.8,594.7 L1554.3,586.5 Q1552.0,585.4 1552.0,582.9 Z" fill="#3bdaf8"/>
<line x1="1699.0" y1="579.5" x2="1708.0" y2="574.7" stroke="#8f78d8" stroke-width="3.4" stroke-linecap="round"/>
<line x1="1708.0" y1="574.7" x2="1725.5" y2="565.3" stroke="#2f1586" stroke-width="4.4" stroke-linecap="round"/>
<line x1="1731.0" y1="562.4" x2="1749.5" y2="552.5" stroke="#2f1586" stroke-width="4.4" stroke-linecap="round"/>
<line x1="1699.0" y1="593.0" x2="1708.0" y2="588.2" stroke="#8f78d8" stroke-width="3.4" stroke-linecap="round"/>
<line x1="1708.0" y1="588.2" x2="1725.5" y2="578.8" stroke="#2f1586" stroke-width="4.4" stroke-linecap="round"/>
<line x1="1731.0" y1="575.9" x2="1749.5" y2="566.0" stroke="#2f1586" stroke-width="4.4" stroke-linecap="round"/>
<line x1="1699.0" y1="606.5" x2="1708.0" y2="601.7" stroke="#8f78d8" stroke-width="3.4" stroke-linecap="round"/>
<line x1="1708.0" y1="601.7" x2="1725.5" y2="592.3" stroke="#2f1586" stroke-width="4.4" stroke-linecap="round"/>
<line x1="1731.0" y1="589.4" x2="1749.5" y2="579.5" stroke="#2f1586" stroke-width="4.4" stroke-linecap="round"/>
<rect x="1595.6" y="588" width="4.2" height="25" rx="1.5" fill="#b4c2ff"/>
<rect x="1611.6" y="595.5" width="6.2" height="27.5" rx="2" fill="#b4c2ff"/>
<polygon points="1501.0,413.0 1642.0,478.5 1643.0,508.0 1501.0,441.5" fill="#3407ac" />
<polygon points="1642.0,478.5 1770.0,418.0 1767.0,434.0 1643.0,508.0" fill="url(#gapR)" />
<path d="M1501.0,444.5 Q1501.0,439.5 1505.5,441.6 L1642.0,506.0 L1763.9,435.5 Q1770.0,432.0 1770.0,439.0 L1770.0,500.0 Q1770.0,510.0 1760.9,514.2 L1656.7,562.1 Q1644.0,568.0 1631.4,562.0 L1510.0,503.8 Q1501.0,499.5 1501.0,489.5 Z" fill="#5c10e2"/>
<clipPath id="uc439"><path d="M1501.0,444.5 Q1501.0,439.5 1505.5,441.6 L1642.0,506.0 L1763.9,435.5 Q1770.0,432.0 1770.0,439.0 L1770.0,500.0 Q1770.0,510.0 1760.9,514.2 L1656.7,562.1 Q1644.0,568.0 1631.4,562.0 L1510.0,503.8 Q1501.0,499.5 1501.0,489.5 Z"/></clipPath>
<g clip-path="url(#uc439)">
<polygon points="1501.0,439.5 1642.0,506.0 1644.0,568.0 1501.0,499.5 1501.0,519.5" fill="url(#svL)" />
<polygon points="1642.0,506.0 1770.0,432.0 1770.0,510.0 1644.0,568.0 1644.0,588.0" fill="url(#svR)" />
<polyline points="1499.0,440.0 1642.0,507.5" fill="none" stroke="#9a70ff" stroke-width="3" opacity="0.9"/>
<polyline points="1642.0,507.5 1772.0,432.5" fill="none" stroke="#d6c6ff" stroke-width="3" opacity="0.9"/>
</g>
<path d="M1515.5,469.8 Q1515.5,467.3 1517.7,468.6 L1521.4,470.7 Q1524.5,472.4 1524.5,475.7 L1524.5,475.7 Q1524.5,479.0 1521.2,477.9 L1517.9,476.7 Q1515.5,475.9 1515.5,473.4 Z" fill="#3bdaf8"/>
<path d="M1529.5,476.4 Q1529.5,473.9 1531.7,475.1 L1542.9,480.9 Q1546.0,482.5 1546.0,485.7 L1546.0,485.7 Q1546.0,488.9 1542.7,487.6 L1531.8,483.3 Q1529.5,482.3 1529.5,479.8 Z" fill="#3bdaf8"/>
<path d="M1552.0,487.1 Q1552.0,484.6 1554.2,485.7 L1572.9,495.1 Q1576.0,496.7 1576.0,499.7 L1576.0,499.7 Q1576.0,502.7 1572.8,501.3 L1554.3,493.5 Q1552.0,492.6 1552.0,490.1 Z" fill="#3bdaf8"/>
<path d="M1515.5,487.6 Q1515.5,485.1 1517.7,486.4 L1521.4,488.5 Q1524.5,490.2 1524.5,493.5 L1524.5,493.5 Q1524.5,496.8 1521.2,495.7 L1517.9,494.5 Q1515.5,493.7 1515.5,491.2 Z" fill="#3bdaf8"/>
<path d="M1529.5,494.2 Q1529.5,491.7 1531.7,492.9 L1542.9,498.7 Q1546.0,500.3 1546.0,503.5 L1546.0,503.5 Q1546.0,506.7 1542.7,505.4 L1531.8,501.1 Q1529.5,500.1 1529.5,497.6 Z" fill="#3bdaf8"/>
<path d="M1552.0,504.9 Q1552.0,502.4 1554.2,503.5 L1572.9,512.9 Q1576.0,514.5 1576.0,517.5 L1576.0,517.5 Q1576.0,520.5 1572.8,519.1 L1554.3,511.3 Q1552.0,510.4 1552.0,507.9 Z" fill="#3bdaf8"/>
<line x1="1699.0" y1="502.5" x2="1708.0" y2="497.7" stroke="#8f78d8" stroke-width="3.4" stroke-linecap="round"/>
<line x1="1708.0" y1="497.7" x2="1725.5" y2="488.3" stroke="#2f1586" stroke-width="4.4" stroke-linecap="round"/>
<line x1="1731.0" y1="485.4" x2="1749.5" y2="475.5" stroke="#2f1586" stroke-width="4.4" stroke-linecap="round"/>
<line x1="1699.0" y1="516.0" x2="1708.0" y2="511.2" stroke="#8f78d8" stroke-width="3.4" stroke-linecap="round"/>
<line x1="1708.0" y1="511.2" x2="1725.5" y2="501.8" stroke="#2f1586" stroke-width="4.4" stroke-linecap="round"/>
<line x1="1731.0" y1="498.9" x2="1749.5" y2="489.0" stroke="#2f1586" stroke-width="4.4" stroke-linecap="round"/>
<line x1="1699.0" y1="529.5" x2="1708.0" y2="524.7" stroke="#8f78d8" stroke-width="3.4" stroke-linecap="round"/>
<line x1="1708.0" y1="524.7" x2="1725.5" y2="515.3" stroke="#2f1586" stroke-width="4.4" stroke-linecap="round"/>
<line x1="1731.0" y1="512.4" x2="1749.5" y2="502.5" stroke="#2f1586" stroke-width="4.4" stroke-linecap="round"/>
<path d="M1501.0,360.0 L1642.0,427.5 L1770.0,360.0 L1770.0,420.0 Q1770.0,430.0 1761.0,434.4 L1656.5,486.3 Q1644.0,492.5 1631.3,486.5 L1510.0,429.3 Q1501.0,425.0 1501.0,415.0 Z" fill="#5c10e2"/>
<clipPath id="uc360"><path d="M1501.0,360.0 L1642.0,427.5 L1770.0,360.0 L1770.0,420.0 Q1770.0,430.0 1761.0,434.4 L1656.5,486.3 Q1644.0,492.5 1631.3,486.5 L1510.0,429.3 Q1501.0,425.0 1501.0,415.0 Z"/></clipPath>
<g clip-path="url(#uc360)">
<polygon points="1501.0,360.0 1642.0,427.5 1644.0,492.5 1501.0,425.0 1501.0,445.0" fill="url(#svL)" />
<polygon points="1642.0,427.5 1770.0,360.0 1770.0,430.0 1644.0,492.5 1644.0,512.5" fill="url(#svR)" />
</g>
<path d="M1515.5,390.4 Q1515.5,387.9 1517.7,389.2 L1521.5,391.3 Q1524.5,393.1 1524.5,396.4 L1524.5,396.4 Q1524.5,399.7 1521.2,398.5 L1517.9,397.4 Q1515.5,396.5 1515.5,394.0 Z" fill="#3bdaf8"/>
<path d="M1529.5,397.1 Q1529.5,394.6 1531.7,395.8 L1542.9,401.7 Q1546.0,403.3 1546.0,406.5 L1546.0,406.5 Q1546.0,409.7 1542.8,408.4 L1531.8,404.0 Q1529.5,403.0 1529.5,400.5 Z" fill="#3bdaf8"/>
<path d="M1552.0,407.9 Q1552.0,405.4 1554.2,406.6 L1572.9,416.1 Q1576.0,417.7 1576.0,420.7 L1576.0,420.7 Q1576.0,423.7 1572.8,422.3 L1554.3,414.4 Q1552.0,413.4 1552.0,410.9 Z" fill="#3bdaf8"/>
<path d="M1515.5,408.2 Q1515.5,405.7 1517.7,407.0 L1521.5,409.1 Q1524.5,410.9 1524.5,414.2 L1524.5,414.2 Q1524.5,417.5 1521.2,416.3 L1517.9,415.2 Q1515.5,414.3 1515.5,411.8 Z" fill="#3bdaf8"/>
<path d="M1529.5,414.9 Q1529.5,412.4 1531.7,413.6 L1542.9,419.5 Q1546.0,421.1 1546.0,424.3 L1546.0,424.3 Q1546.0,427.5 1542.8,426.2 L1531.8,421.8 Q1529.5,420.8 1529.5,418.3 Z" fill="#3bdaf8"/>
<path d="M1552.0,425.7 Q1552.0,423.2 1554.2,424.4 L1572.9,433.9 Q1576.0,435.5 1576.0,438.5 L1576.0,438.5 Q1576.0,441.5 1572.8,440.1 L1554.3,432.2 Q1552.0,431.2 1552.0,428.7 Z" fill="#3bdaf8"/>
<line x1="1699.0" y1="424.0" x2="1708.0" y2="419.2" stroke="#8f78d8" stroke-width="3.4" stroke-linecap="round"/>
<line x1="1708.0" y1="419.2" x2="1725.5" y2="409.8" stroke="#2f1586" stroke-width="4.4" stroke-linecap="round"/>
<line x1="1731.0" y1="406.9" x2="1749.5" y2="397.0" stroke="#2f1586" stroke-width="4.4" stroke-linecap="round"/>
<line x1="1699.0" y1="437.5" x2="1708.0" y2="432.7" stroke="#8f78d8" stroke-width="3.4" stroke-linecap="round"/>
<line x1="1708.0" y1="432.7" x2="1725.5" y2="423.3" stroke="#2f1586" stroke-width="4.4" stroke-linecap="round"/>
<line x1="1731.0" y1="420.4" x2="1749.5" y2="410.5" stroke="#2f1586" stroke-width="4.4" stroke-linecap="round"/>
<line x1="1699.0" y1="451.0" x2="1708.0" y2="446.2" stroke="#8f78d8" stroke-width="3.4" stroke-linecap="round"/>
<line x1="1708.0" y1="446.2" x2="1725.5" y2="436.8" stroke="#2f1586" stroke-width="4.4" stroke-linecap="round"/>
<line x1="1731.0" y1="433.9" x2="1749.5" y2="424.0" stroke="#2f1586" stroke-width="4.4" stroke-linecap="round"/>
<path d="M1506.0,364.4 Q1497.0,360.0 1505.7,355.1 L1619.4,290.4 Q1635.0,281.5 1650.7,290.4 L1765.3,355.1 Q1774.0,360.0 1765.1,364.6 L1656.0,421.7 Q1640.0,430.0 1623.8,422.1 Z" fill="#f7f5ff"/>
<path d="M1529.0,359.7 Q1521.0,355.5 1529.0,351.3 L1622.6,302.5 Q1635.0,296.0 1647.5,302.4 L1745.0,352.4 Q1753.0,356.5 1745.1,360.8 L1653.5,411.2 Q1641.2,418.0 1628.8,411.5 Z" fill="#b4b8e4"/>
<path d="M1531.5,360.9 Q1523.5,356.8 1531.5,352.6 L1623.1,305.4 Q1635.5,299.0 1648.0,305.3 L1743.0,353.7 Q1751.0,357.8 1743.1,362.1 L1653.5,410.8 Q1641.2,417.5 1628.8,411.1 Z" fill="url(#svTopIn)"/>
<polyline points="1430,583 1430,425" fill="none" stroke="rgba(255,255,255,0.25)" stroke-width="1.5"/>
<polyline points="1840,587 1840,425" fill="none" stroke="rgba(255,255,255,0.22)" stroke-width="1.5"/>
<path d="M 185.0,1513.8 C 195.0,1500.0 230.0,1485.0 255.0,1482.5 L 320.0,1525.0 L 642.5,1357.5 C 655.0,1362.5 655.0,1375.0 647.5,1382.5 L 330.0,1555.0 C 300.0,1575.0 262.5,1580.0 230.0,1562.5 C 200.0,1547.5 180.0,1530.0 185.0,1513.8 Z" fill="rgba(66,16,178,0.33)" filter="url(#blur3)"/>
<g fill="url(#clSideA)">
<use href="#clp" transform="translate(-50.00,-27.00)"/>
<use href="#clp" transform="translate(-49.00,-26.46)"/>
<use href="#clp" transform="translate(-48.00,-25.92)"/>
<use href="#clp" transform="translate(-47.00,-25.38)"/>
<use href="#clp" transform="translate(-46.00,-24.84)"/>
<use href="#clp" transform="translate(-45.00,-24.30)"/>
<use href="#clp" transform="translate(-44.00,-23.76)"/>
<use href="#clp" transform="translate(-43.00,-23.22)"/>
<use href="#clp" transform="translate(-42.00,-22.68)"/>
<use href="#clp" transform="translate(-41.00,-22.14)"/>
<use href="#clp" transform="translate(-40.00,-21.60)"/>
<use href="#clp" transform="translate(-39.00,-21.06)"/>
<use href="#clp" transform="translate(-38.00,-20.52)"/>
<use href="#clp" transform="translate(-37.00,-19.98)"/>
<use href="#clp" transform="translate(-36.00,-19.44)"/>
<use href="#clp" transform="translate(-35.00,-18.90)"/>
<use href="#clp" transform="translate(-34.00,-18.36)"/>
<use href="#clp" transform="translate(-33.00,-17.82)"/>
<use href="#clp" transform="translate(-32.00,-17.28)"/>
<use href="#clp" transform="translate(-31.00,-16.74)"/>
<use href="#clp" transform="translate(-30.00,-16.20)"/>
<use href="#clp" transform="translate(-29.00,-15.66)"/>
<use href="#clp" transform="translate(-28.00,-15.12)"/>
<use href="#clp" transform="translate(-27.00,-14.58)"/>
<use href="#clp" transform="translate(-26.00,-14.04)"/>
<use href="#clp" transform="translate(-25.00,-13.50)"/>
<use href="#clp" transform="translate(-24.00,-12.96)"/>
<use href="#clp" transform="translate(-23.00,-12.42)"/>
<use href="#clp" transform="translate(-22.00,-11.88)"/>
<use href="#clp" transform="translate(-21.00,-11.34)"/>
<use href="#clp" transform="translate(-20.00,-10.80)"/>
<use href="#clp" transform="translate(-19.00,-10.26)"/>
<use href="#clp" transform="translate(-18.00,-9.72)"/>
<use href="#clp" transform="translate(-17.00,-9.18)"/>
<use href="#clp" transform="translate(-16.00,-8.64)"/>
<use href="#clp" transform="translate(-15.00,-8.10)"/>
<use href="#clp" transform="translate(-14.00,-7.56)"/>
<use href="#clp" transform="translate(-13.00,-7.02)"/>
<use href="#clp" transform="translate(-12.00,-6.48)"/>
<use href="#clp" transform="translate(-11.00,-5.94)"/>
<use href="#clp" transform="translate(-10.00,-5.40)"/>
<use href="#clp" transform="translate(-9.00,-4.86)"/>
<use href="#clp" transform="translate(-8.00,-4.32)"/>
<use href="#clp" transform="translate(-7.00,-3.78)"/>
<use href="#clp" transform="translate(-6.00,-3.24)"/>
<use href="#clp" transform="translate(-5.00,-2.70)"/>
<use href="#clp" transform="translate(-4.00,-2.16)"/>
<use href="#clp" transform="translate(-3.00,-1.62)"/>
<use href="#clp" transform="translate(-2.00,-1.08)"/>
<use href="#clp" transform="translate(-1.00,-0.54)"/>
</g>
<g fill="url(#clSideB)" clip-path="url(#clLeft)">
<use href="#clp" transform="translate(-50.00,-27.00)"/>
<use href="#clp" transform="translate(-49.00,-26.46)"/>
<use href="#clp" transform="translate(-48.00,-25.92)"/>
<use href="#clp" transform="translate(-47.00,-25.38)"/>
<use href="#clp" transform="translate(-46.00,-24.84)"/>
<use href="#clp" transform="translate(-45.00,-24.30)"/>
<use href="#clp" transform="translate(-44.00,-23.76)"/>
<use href="#clp" transform="translate(-43.00,-23.22)"/>
<use href="#clp" transform="translate(-42.00,-22.68)"/>
<use href="#clp" transform="translate(-41.00,-22.14)"/>
<use href="#clp" transform="translate(-40.00,-21.60)"/>
<use href="#clp" transform="translate(-39.00,-21.06)"/>
<use href="#clp" transform="translate(-38.00,-20.52)"/>
<use href="#clp" transform="translate(-37.00,-19.98)"/>
<use href="#clp" transform="translate(-36.00,-19.44)"/>
<use href="#clp" transform="translate(-35.00,-18.90)"/>
<use href="#clp" transform="translate(-34.00,-18.36)"/>
<use href="#clp" transform="translate(-33.00,-17.82)"/>
<use href="#clp" transform="translate(-32.00,-17.28)"/>
<use href="#clp" transform="translate(-31.00,-16.74)"/>
<use href="#clp" transform="translate(-30.00,-16.20)"/>
<use href="#clp" transform="translate(-29.00,-15.66)"/>
<use href="#clp" transform="translate(-28.00,-15.12)"/>
<use href="#clp" transform="translate(-27.00,-14.58)"/>
<use href="#clp" transform="translate(-26.00,-14.04)"/>
<use href="#clp" transform="translate(-25.00,-13.50)"/>
<use href="#clp" transform="translate(-24.00,-12.96)"/>
<use href="#clp" transform="translate(-23.00,-12.42)"/>
<use href="#clp" transform="translate(-22.00,-11.88)"/>
<use href="#clp" transform="translate(-21.00,-11.34)"/>
<use href="#clp" transform="translate(-20.00,-10.80)"/>
<use href="#clp" transform="translate(-19.00,-10.26)"/>
<use href="#clp" transform="translate(-18.00,-9.72)"/>
<use href="#clp" transform="translate(-17.00,-9.18)"/>
<use href="#clp" transform="translate(-16.00,-8.64)"/>
<use href="#clp" transform="translate(-15.00,-8.10)"/>
<use href="#clp" transform="translate(-14.00,-7.56)"/>
<use href="#clp" transform="translate(-13.00,-7.02)"/>
<use href="#clp" transform="translate(-12.00,-6.48)"/>
<use href="#clp" transform="translate(-11.00,-5.94)"/>
<use href="#clp" transform="translate(-10.00,-5.40)"/>
<use href="#clp" transform="translate(-9.00,-4.86)"/>
<use href="#clp" transform="translate(-8.00,-4.32)"/>
<use href="#clp" transform="translate(-7.00,-3.78)"/>
<use href="#clp" transform="translate(-6.00,-3.24)"/>
<use href="#clp" transform="translate(-5.00,-2.70)"/>
<use href="#clp" transform="translate(-4.00,-2.16)"/>
<use href="#clp" transform="translate(-3.00,-1.62)"/>
<use href="#clp" transform="translate(-2.00,-1.08)"/>
<use href="#clp" transform="translate(-1.00,-0.54)"/>
</g>
<use href="#clp" fill="url(#clFront)" stroke="#ffffff" stroke-opacity="0.75" stroke-width="1.4"/>
<polygon points="451.2,1293.5 460.5,1297.0 416.8,1393.0 403.2,1383.8" fill="#7383d6" />
<polygon points="434.5,1381.2 445.5,1378.0 445.5,1433.0 434.5,1425.0" fill="#6876cf" />
<polygon points="460.5,1297.0 511.5,1342.5 484.0,1357.5 484.0,1413.0 445.0,1433.0 445.0,1378.8 416.2,1393.0" fill="#ffffff" />
<polygon points="505.0,1462.0 526.2,1425.8 530.5,1425.0 516.2,1468.0" fill="#b9b4f4" />
<polygon points="530.0,1424.5 561.8,1446.5 544.2,1449.2 544.2,1481.5 527.5,1490.5 527.5,1455.5 515.0,1465.5" fill="#fbf8ff" />
<polygon points="363.8,1523.0 392.5,1488.0 398.0,1487.5 380.0,1530.0" fill="#b9b4f4" />
<polygon points="397.5,1487.0 426.2,1505.5 407.5,1510.5 408.0,1538.0 388.8,1548.0 388.8,1525.0 373.8,1532.0" fill="#fbf8ff" />
<polygon points="457.5,1474.0 477.5,1467.0 477.5,1548.0 431.2,1570.5 431.2,1557.5 457.5,1543.8" fill="#f3ecff" />
<polygon points="476.5,1493.0 496.5,1503.5 476.5,1515.5" fill="#fbf8ff" />
<ellipse cx="1680" cy="1540" rx="330" ry="210" fill="url(#ulGlow)"/>
<path d="M 1517.5,1512.5 L 1732.5,1552.5 L 1770.0,1530.0 L 1770.0,1555.0 L 1732.5,1572.5 L 1507.5,1530.0 Z" fill="rgba(45,5,130,0.35)" filter="url(#blur10)"/>
<path d="M 1543.2,1355.0 L 1543.2,1245.5 Q 1544.5,1226.0 1567.0,1225.0 L 1692.5,1243.8 Q 1733.0,1253.0 1735.0,1291.2 L 1735.0,1395.0 L 1725.0,1395.0 Z" fill="url(#ulBackO)"/>
<path d="M 1543.2,1355.0 L 1543.2,1253.0 Q 1545.0,1238.0 1561.2,1234.0 L 1683.8,1254.5 Q 1722.0,1262.0 1724.5,1297.5 L 1724.5,1395.0 Z" fill="#4b11cc"/>
<path d="M 1704.0,1301.2 L 1713.8,1299.0 L 1713.8,1392.5 L 1704.0,1392.5 Z" fill="#7b40f2"/>
<path d="M 1552.0,1360.0 L 1552.0,1248.0 Q 1552.5,1241.5 1559.5,1242.5 L 1662.5,1260.0 L 1704.5,1301.2 L 1704.5,1392.5 Z" fill="#fdfcff"/>
<path d="M 1662.5,1260.0 L 1704.5,1301.2 L 1665.5,1294.5 Q 1662.5,1293.8 1662.5,1290.0 Z" fill="url(#ulFold)"/>
<line x1="1575.5" y1="1296.0" x2="1677.0" y2="1316.5" stroke="#7c3ff2" stroke-width="7" stroke-linecap="round"/>
<line x1="1575.5" y1="1316.8" x2="1674.5" y2="1336.5" stroke="#7c3ff2" stroke-width="7" stroke-linecap="round"/>
<line x1="1575.5" y1="1337.5" x2="1620.8" y2="1347.5" stroke="#7c3ff2" stroke-width="7" stroke-linecap="round"/>
<path d="M 1511.0,1357.5 Q 1511.0,1338.8 1539.7,1335.1 L 1542.2,1337.3 L 1539.4,1350.0 L 1551.3,1354.3 L 1703.5,1380.7 L 1724.5,1383.2 L 1734.1,1382.3 L 1735.7,1367.1 Q 1760.2,1365.2 1761.7,1382.3 L 1737.2,1399.4 Z" fill="url(#ulTop)"/>
<path d="M 1542.2,1336.6 L 1551.5,1340.7 L 1551.5,1354.7 L 1539.4,1350.3 Z" fill="#3a0aa6"/>
<path d="M1736.9,1398.1 L1756.8,1384.2 Q1761.7,1380.7 1761.7,1386.7 L1761.7,1515.5 Q1761.8,1525.5 1753.9,1531.7 L1736.2,1545.5 Z" fill="url(#ulSide)"/>
<path d="M1511.0,1363.6 Q1511.0,1353.6 1520.8,1355.5 L1735.2,1397.8 Q1737.2,1398.1 1737.2,1400.1 L1736.8,1535.5 Q1736.8,1545.5 1726.9,1543.6 L1528.9,1506.3 Q1511.2,1503.0 1511.2,1485.0 Z" fill="url(#ulFront)"/>
<line x1="1514.8" y1="1354.7" x2="1736.1" y2="1398.4" stroke="#b796ff" stroke-width="3" stroke-linecap="round" opacity="0.7" filter="url(#blur1)"/>
<g transform="rotate(8 1618 1436)"><ellipse cx="1618" cy="1436" rx="22.5" ry="22.5" fill="#12023f"/></g>
<path d="M1608.8,1453.8 L1628.8,1456.2 L1634.1,1491.5 Q1634.2,1492.5 1633.3,1492.3 L1602.5,1486.7 Q1601.5,1486.5 1601.7,1485.5 Z" fill="#12023f"/>
<polygon points="1601.5,1485.5 1634.2,1491.5 1633.8,1494.5 1602.0,1488.0" fill="#a06cfb" />
<rect x="644" y="515" width="158" height="21.5" fill="url(#fa1)"/>
<polygon points="800.3,493.8 854.8,525.6 800.3,558.2" fill="#ffffff" />
<rect x="1157.2" y="515.2" width="153" height="21.4" fill="url(#fa2)"/>
<polygon points="1308.6,493.5 1364.0,525.6 1308.6,558.5" fill="#ffffff" />
<rect x="1013.6" y="648" width="21.6" height="89" fill="url(#fa3)"/>
<polygon points="992.5,735.5 1056.0,735.5 1024.0,783.0" fill="#ffffff" />
<rect x="709.2" y="1390.4" width="660" height="20" fill="#ffffff"/>
<polygon points="1367.6,1367.8 1424.3,1400.3 1367.6,1433.0" fill="#ffffff" />
<polygon points="670.0,1235.5 698.4,1177.0 705.4,1198.5 1378.4,751.3 1361.3,736.5 1426.2,733.0 1397.9,791.5 1390.8,770.0 717.8,1217.2 734.9,1232.0" fill="#ffffff" />
<g opacity="0.30" filter="url(#blur3)" transform="translate(2,3)">
<text x="432.7" y="865.6" font-size="57" text-anchor="middle" lengthAdjust="spacingAndGlyphs" textLength="93.2" style="fill:#4a18b8;stroke:#4a18b8;stroke-width:1.6">File</text>
<text x="433.6" y="930.5" font-size="57" text-anchor="middle" lengthAdjust="spacingAndGlyphs" textLength="181.2" style="fill:#4a18b8;stroke:#4a18b8;stroke-width:1.6">Upload</text>
<text x="1024.1" y="864.8" font-size="57" text-anchor="middle" lengthAdjust="spacingAndGlyphs" textLength="123.5" style="fill:#4a18b8;stroke:#4a18b8;stroke-width:1.6">Lock</text>
<text x="1022.3" y="930.8" font-size="57" text-anchor="middle" lengthAdjust="spacingAndGlyphs" textLength="258.6" style="fill:#4a18b8;stroke:#4a18b8;stroke-width:1.6">Extraction</text>
<text x="1635.1" y="864.8" font-size="57" text-anchor="middle" lengthAdjust="spacingAndGlyphs" textLength="222.3" style="fill:#4a18b8;stroke:#4a18b8;stroke-width:1.6">AI Cloud</text>
<text x="1635.1" y="930.8" font-size="57" text-anchor="middle" lengthAdjust="spacingAndGlyphs" textLength="282.3" style="fill:#4a18b8;stroke:#4a18b8;stroke-width:1.6">Processing</text>
<text x="433.6" y="1671.3" font-size="57" text-anchor="middle" lengthAdjust="spacingAndGlyphs" textLength="221.7" style="fill:#4a18b8;stroke:#4a18b8;stroke-width:1.6">AI Cloud</text>
<text x="434.5" y="1737.3" font-size="57" text-anchor="middle" lengthAdjust="spacingAndGlyphs" textLength="283.3" style="fill:#4a18b8;stroke:#4a18b8;stroke-width:1.6">Processing</text>
<text x="1633.1" y="1671.4" font-size="57" text-anchor="middle" lengthAdjust="spacingAndGlyphs" textLength="342.1" style="fill:#4a18b8;stroke:#4a18b8;stroke-width:1.6">Unlocked File</text>
<text x="1633.4" y="1737.0" font-size="57" text-anchor="middle" lengthAdjust="spacingAndGlyphs" textLength="253.8" style="fill:#4a18b8;stroke:#4a18b8;stroke-width:1.6">Download</text>
</g>
<g stroke="#ffffff" stroke-width="1.6" stroke-linejoin="round">
<text x="432.7" y="865.6" font-size="57" text-anchor="middle" lengthAdjust="spacingAndGlyphs" textLength="93.2">File</text>
<text x="433.6" y="930.5" font-size="57" text-anchor="middle" lengthAdjust="spacingAndGlyphs" textLength="181.2">Upload</text>
<text x="1024.1" y="864.8" font-size="57" text-anchor="middle" lengthAdjust="spacingAndGlyphs" textLength="123.5">Lock</text>
<text x="1022.3" y="930.8" font-size="57" text-anchor="middle" lengthAdjust="spacingAndGlyphs" textLength="258.6">Extraction</text>
<text x="1635.1" y="864.8" font-size="57" text-anchor="middle" lengthAdjust="spacingAndGlyphs" textLength="222.3">AI Cloud</text>
<text x="1635.1" y="930.8" font-size="57" text-anchor="middle" lengthAdjust="spacingAndGlyphs" textLength="282.3">Processing</text>
<text x="433.6" y="1671.3" font-size="57" text-anchor="middle" lengthAdjust="spacingAndGlyphs" textLength="221.7">AI Cloud</text>
<text x="434.5" y="1737.3" font-size="57" text-anchor="middle" lengthAdjust="spacingAndGlyphs" textLength="283.3">Processing</text>
<text x="1633.1" y="1671.4" font-size="57" text-anchor="middle" lengthAdjust="spacingAndGlyphs" textLength="342.1">Unlocked File</text>
<text x="1633.4" y="1737.0" font-size="57" text-anchor="middle" lengthAdjust="spacingAndGlyphs" textLength="253.8">Download</text>
</g>
</svg>
</body></html>
